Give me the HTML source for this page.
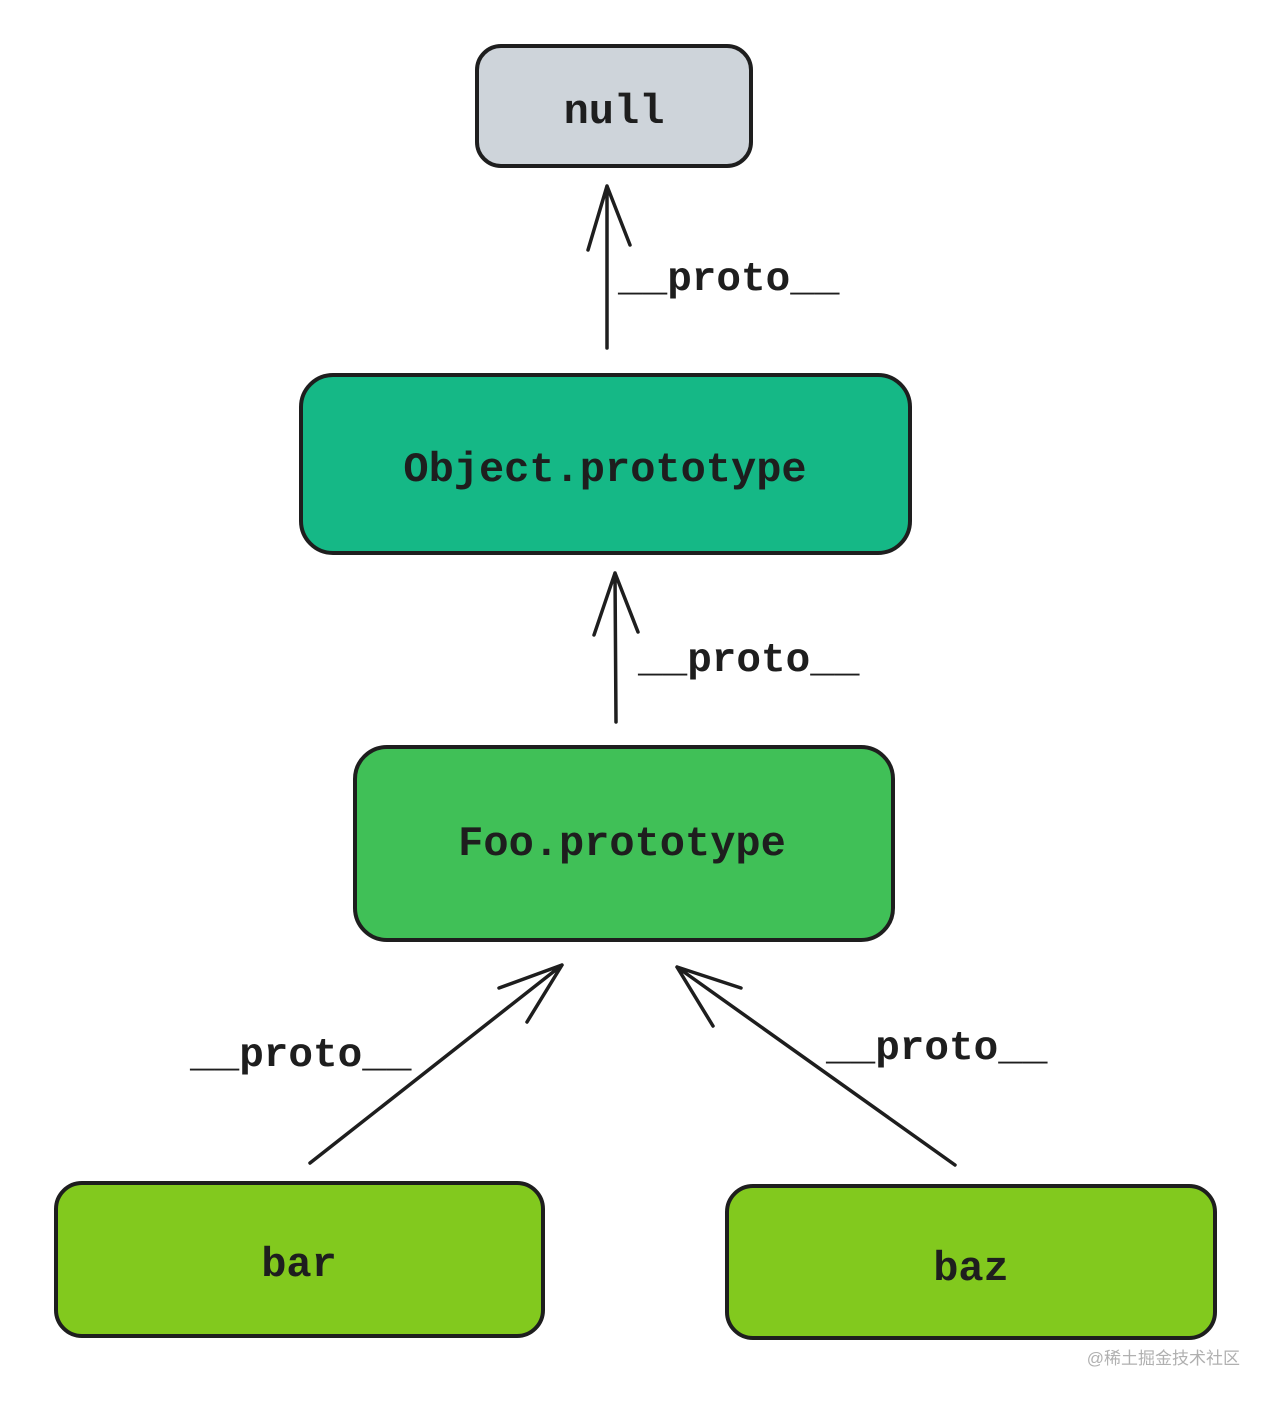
<!DOCTYPE html>
<html><head><meta charset="utf-8"><style>
html,body{margin:0;padding:0;background:#fff;}
svg{display:block;}
text{font-family:"Liberation Mono",monospace;font-weight:bold;fill:#1e1e1e;}
</style></head><body>
<svg width="1276" height="1402" viewBox="0 0 1276 1402" xmlns="http://www.w3.org/2000/svg">
<g stroke="#1e1e1e" stroke-width="4" stroke-linecap="round" stroke-linejoin="round">
<rect x="477" y="46" width="274" height="120" rx="24" fill="#ced4da"/>
<rect x="301" y="375" width="609" height="178" rx="32" fill="#15b886"/>
<rect x="355" y="747" width="538" height="193" rx="32" fill="#40c057"/>
<rect x="56" y="1183" width="487" height="153" rx="26" fill="#82c91e"/>
<rect x="727" y="1186" width="488" height="152" rx="26" fill="#82c91e"/>
<g fill="none" stroke-width="3.5">
<path d="M607 348 L607 186 M588 250 L607 186 L630 245"/>
<path d="M616 722 L615 573 M594 635 L615 573 L638 632"/>
<path d="M310 1163 L562 965 M499 988 L562 965 L527 1022"/>
<path d="M955 1165 L677 967 M741 988 L677 967 L713 1026"/>
</g>
</g>
<text x="614" y="123" font-size="42" text-anchor="middle">null</text>
<text x="605" y="481" font-size="42" text-anchor="middle">Object.prototype</text>
<text x="622" y="855" font-size="42" text-anchor="middle">Foo.prototype</text>
<text x="299" y="1276" font-size="42" text-anchor="middle">bar</text>
<text x="971" y="1280" font-size="42" text-anchor="middle">baz</text>
<text x="618" y="290" font-size="41">__proto__</text>
<text x="638" y="671" font-size="41">__proto__</text>
<text x="190" y="1066" font-size="41">__proto__</text>
<text x="826" y="1059" font-size="41">__proto__</text>
<text x="1240" y="1364" font-size="17" text-anchor="end" style="font-family:'Liberation Sans','Noto Sans CJK SC',sans-serif;font-weight:normal;fill:#b0b0b0">@稀土掘金技术社区</text>
</svg>
</body></html>
